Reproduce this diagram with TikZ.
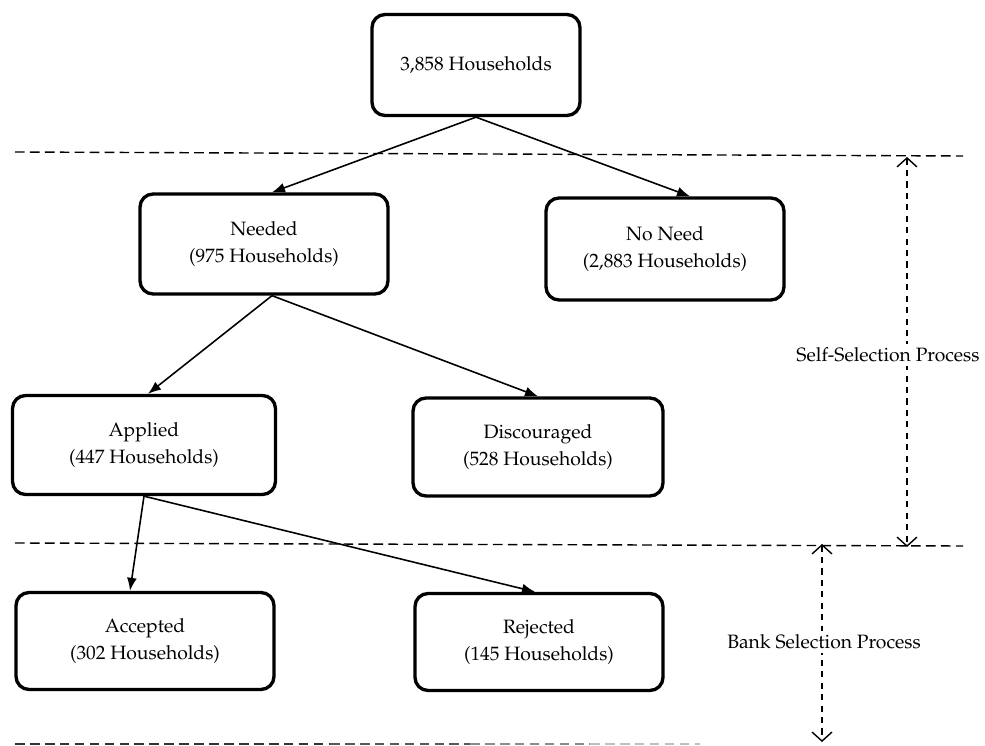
\documentclass[tikz,border=0pt]{standalone}
\usepackage[T1]{fontenc}
\usepackage{mathpazo}
\usetikzlibrary{arrows.meta}

\tikzset{
    hhbox/.style={draw=black, fill=white, line width=1.9pt, rectangle, rounded corners=0.26cm, align=center, font=\fontsize{11}{15.5}\selectfont},
    hharrow/.style={line width=0.9pt, -{Latex[length=2.6mm,width=2mm]}},
    hhsep/.style={line width=0.8pt, dash pattern=on 5.5pt off 3pt},
    hhspan/.style={line width=0.8pt, dash pattern=on 3.5pt off 3pt, {Straight Barb[length=1.8mm,width=4mm]}-{Straight Barb[length=1.8mm,width=4mm]}},
}

\begin{document}
\begin{tikzpicture}[x=0.02cm, y=-0.02cm]
    \useasboundingbox (0,0) rectangle (985,746);

    % boxes
    \node[hhbox, minimum width=4.16cm, minimum height=2.02cm] (ndTotal) at (476,65) {3,858 Households};
    \node[hhbox, minimum width=4.96cm, minimum height=2.0cm] (ndNeeded) at (264,244) {Needed\\(975 Households)};
    \node[hhbox, minimum width=4.76cm, minimum height=2.04cm] (ndNoNeed) at (665,249) {No Need\\(2,883 Households)};
    \node[hhbox, minimum width=5.26cm, minimum height=1.98cm] (ndApplied) at (144,445) {Applied\\(447 Households)};
    \node[hhbox, minimum width=5.0cm, minimum height=1.96cm] (ndDiscour) at (538,447) {Discouraged\\(528 Households)};
    \node[hhbox, minimum width=5.16cm, minimum height=1.94cm] (ndAccepted) at (145,641) {Accepted\\(302 Households)};
    \node[hhbox, minimum width=4.96cm, minimum height=1.94cm] (ndRejected) at (539,642) {Rejected\\(145 Households)};

    % separators
    \coordinate (sepA1) at (15,152);
    \coordinate (sepA2) at (963,156);
    \coordinate (sepB1) at (15,543);
    \coordinate (sepB2) at (963,546);
    \draw[hhsep] (sepA1) -- (sepA2);
    \draw[hhsep] (sepB1) -- (sepB2);
    \foreach \xa/\xb/\tone in {15/330/80, 330/470/65, 470/590/45, 590/700/25}
        \draw[hhsep, black!\tone] (\xa,744) -- (\xb,744);

    % flows
    \draw[hharrow] (ndTotal.south) -- ([xshift=0.16cm]ndNeeded.north);
    \draw[hharrow] (ndTotal.south) -- ([xshift=0.5cm]ndNoNeed.north);
    \draw[hharrow] ([xshift=0.16cm]ndNeeded.south) -- ([xshift=0.08cm]ndApplied.north);
    \draw[hharrow] ([xshift=0.16cm]ndNeeded.south) -- (ndDiscour.north);
    \draw[hharrow] (ndApplied.south) -- ([xshift=-0.3cm]ndAccepted.north);
    \draw[hharrow] (ndApplied.south) -- ([xshift=-0.08cm]ndRejected.north);

    % process spans
    \coordinate (spanA1) at (907,157);
    \coordinate (spanA2) at (907,547);
    \coordinate (spanB1) at (822,544);
    \coordinate (spanB2) at (822,742);
    \draw[hhspan] (spanA1) -- (spanA2);
    \draw[hhspan] (spanB1) -- (spanB2);
    \node[fill=white, inner sep=2pt, font=\fontsize{11}{13}\selectfont] (ndSelf) at (888,355) {Self-Selection Process};
    \node[fill=white, inner sep=2pt, font=\fontsize{11}{13}\selectfont] (ndBank) at (824,642) {Bank Selection Process};
\end{tikzpicture}
\end{document}
